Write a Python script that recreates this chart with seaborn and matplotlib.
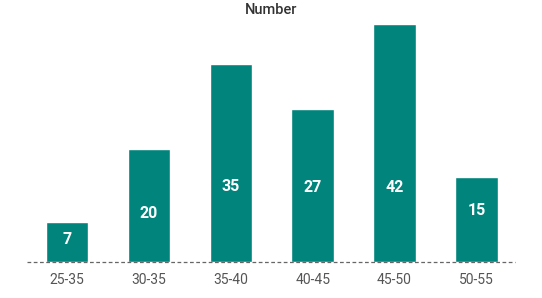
import matplotlib
matplotlib.use("Agg")
import matplotlib.pyplot as plt
import seaborn as sns
import pandas as pd

categories = ["25-35", "30-35", "35-40", "40-45", "45-50", "50-55"]
values = [7, 20, 35, 27, 42, 15]
title = "Number"

# layout: label heights (data units) as drawn in the reference
label_y = [3.9, 8.5, 13.4, 13.2, 13.2, 9.0]

sns.set_theme(style="white")
plt.rcParams['font.family'] = ['Roboto', 'DejaVu Sans']

df = pd.DataFrame({"cat": categories, "val": values})
fig = plt.figure(figsize=(5.42, 2.98), dpi=100)
ax = fig.add_axes([0.0498, 0.1208, 0.9002, 0.8122])
sns.barplot(data=df, x="cat", y="val", color="#00847C", width=0.52,
            saturation=1, ax=ax)
ax.set_xlim(-0.49, 5.47)
ax.set_ylim(0, 42.7)
for i, (v, ly) in enumerate(zip(values, label_y)):
    ax.text(i, ly, str(v), color="white", ha="center", va="center",
            fontsize=11.5, fontweight="bold")
for s in ax.spines.values():
    s.set_visible(False)
ax.axhline(0, color="#666666", linestyle=(0, (3, 2)), linewidth=0.9,
           zorder=3, clip_on=False)
ax.set_yticks([])
ax.set_xlabel("")
ax.set_ylabel("")
ax.tick_params(axis="x", length=0, pad=8, labelsize=10, labelcolor="#555555")
fig.text(0.5, 0.965, title, ha="center", va="center", fontsize=10.5,
         color="#333333", fontweight="medium")
fig.savefig("out.png", dpi=100)
